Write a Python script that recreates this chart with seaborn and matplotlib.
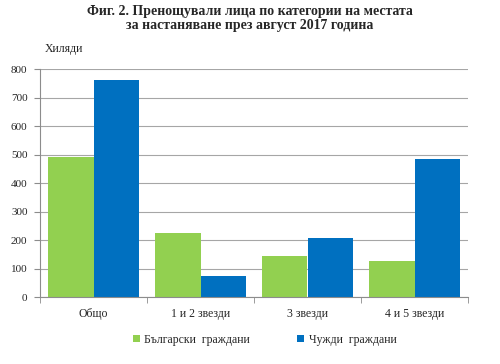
import matplotlib
matplotlib.use('Agg')
import matplotlib.pyplot as plt
import pandas as pd
import seaborn as sns

categories = ['Общо', '1 и 2 звезди', '3 звезди', '4 и 5 звезди']
bulgarians = [492, 224, 144, 125]
foreigners = [761, 74, 206, 483]
series_names = ['Български  граждани', 'Чужди  граждани']
colors = ['#92D050', '#0070C0']

df = pd.DataFrame({
    'category': categories * 2,
    'value': bulgarians + foreigners,
    'series': [series_names[0]] * len(categories) + [series_names[1]] * len(categories),
})

sns.set_style('white')
plt.rcParams['font.family'] = ['Liberation Serif', 'DejaVu Serif']

fig = plt.figure(figsize=(5, 3.64), dpi=100)
ax = fig.add_axes([0.08, 0.184, 0.856, 0.626])

sns.barplot(data=df, x='category', y='value', hue='series', palette=colors,
            width=0.85, saturation=1, linewidth=0, ax=ax, legend=True)

ax.set_ylim(0, 800)
ax.set_yticks(range(0, 801, 100))
ax.set_xlim(-0.5, 3.5)
ax.yaxis.grid(True, color='#A6A6A6', linewidth=0.8)
ax.set_axisbelow(True)
for s in ['top', 'right']:
    ax.spines[s].set_visible(False)
for s in ['left', 'bottom']:
    ax.spines[s].set_color('#8C8C8C')
    ax.spines[s].set_linewidth(0.8)

ax.set_xlabel('')
ax.set_ylabel('')
ax.tick_params(axis='y', labelsize=8, length=4, color='#8C8C8C', left=True, pad=5)
ax.tick_params(axis='x', labelsize=8.5, length=0, pad=8)
# category separator ticks
ax.set_xticks([-0.5, 0.5, 1.5, 2.5, 3.5], minor=True)
ax.tick_params(axis='x', which='minor', length=4, color='#8C8C8C', bottom=True)

ax.text(0.012, 1.06, 'Хиляди', transform=ax.transAxes, fontsize=8.5, ha='left', va='bottom')

fig.suptitle('Фиг. 2. Пренощували лица по категории на местата\nза настаняване през август 2017 година',
             fontsize=10, fontweight='bold', y=0.985, linespacing=1.1)

handles, labels = ax.get_legend_handles_labels()
ax.legend(handles, labels, loc='upper center', bbox_to_anchor=(0.525, -0.115), ncol=2,
          frameon=False, fontsize=8.5, handlelength=0.6, handleheight=0.6,
          columnspacing=4.0, handletextpad=0.4)

fig.savefig('out.png', dpi=100)
